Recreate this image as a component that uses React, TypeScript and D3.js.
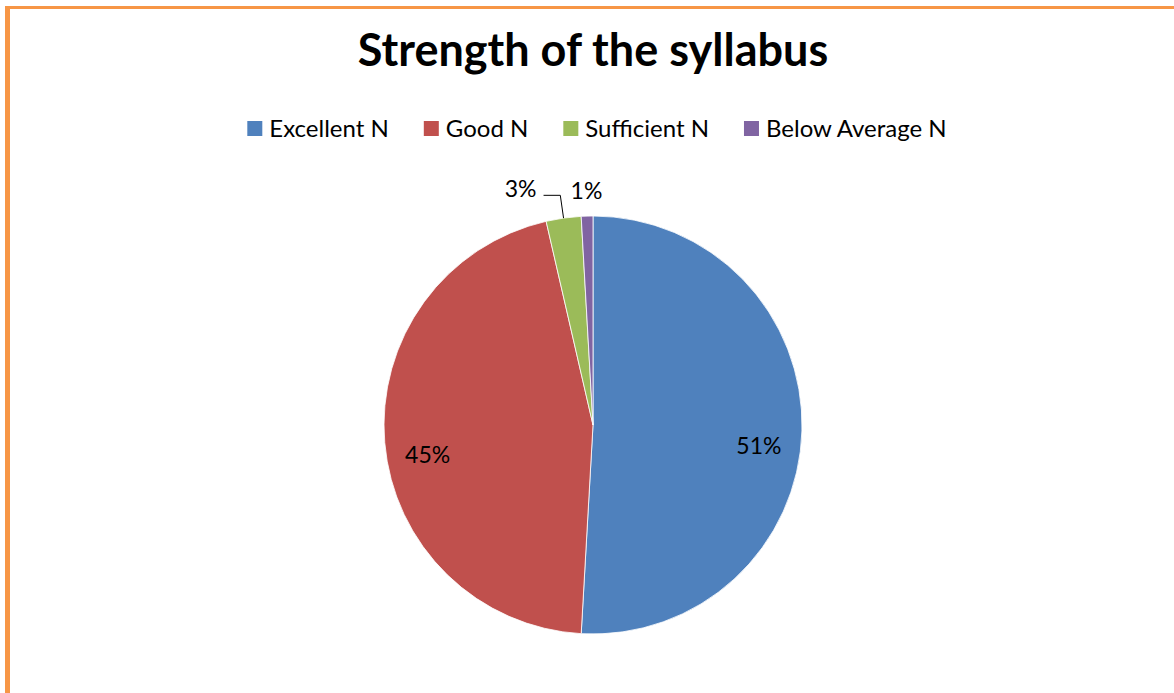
import React, { useEffect, useRef } from "react";
import * as d3 from "d3";

const title = "Strength of the syllabus";
const categories = ["Excellent N", "Good N", "Sufficient N", "Below Average N"];
const values = [50.9, 45.5, 2.7, 0.9];
const labels = ["51%", "45%", "3%", "1%"];
const colors = ["#4F81BD", "#C0504D", "#9BBB59", "#8064A2"];

const W = 1174;
const H = 693;
const FONT = "Lato, Carlito, Calibri, 'Open Sans', sans-serif";

export default function App() {
  const ref = useRef<SVGSVGElement>(null);

  useEffect(() => {
    const svg = d3.select(ref.current);
    svg.selectAll("*").remove();

    // frame
    const frame = "#F79646";
    svg.append("rect").attr("width", W).attr("height", H).attr("fill", "#fff");
    svg.append("line").attr("x1", 7.5).attr("x2", 7.5).attr("y1", 6).attr("y2", H)
      .attr("stroke", frame).attr("stroke-width", 5);
    svg.append("line").attr("x1", 5).attr("x2", W).attr("y1", 7.5).attr("y2", 7.5)
      .attr("stroke", frame).attr("stroke-width", 3);

    // title
    svg.append("text").attr("x", 593).attr("y", 66).attr("text-anchor", "middle")
      .attr("font-family", FONT).attr("font-weight", 700).attr("font-size", 45)
      .attr("fill", "#000").text(title);

    // legend
    const legendFont = 24;
    const sq = 15, sqGap = 7, itemGap = 35, baseline = 137;
    const lg = svg.append("g");
    const items = categories.map((c, i) => {
      const g = lg.append("g");
      g.append("rect").attr("width", sq).attr("height", sq).attr("y", baseline - 16)
        .attr("fill", colors[i]);
      const t = g.append("text").attr("x", sq + sqGap).attr("y", baseline)
        .attr("font-family", FONT).attr("font-size", legendFont).attr("fill", "#000").text(c);
      const w = (t.node() as SVGTextElement).getComputedTextLength();
      return { g, w: sq + sqGap + w };
    });
    const total = d3.sum(items, (d) => d.w) + itemGap * (items.length - 1);
    let x = 597 - total / 2;
    items.forEach((it) => {
      it.g.attr("transform", `translate(${x},0)`);
      x += it.w + itemGap;
    });

    // pie
    const cx = 593, cy = 425, r = 209;
    const pie = d3.pie<number>().sort(null).value((d) => d);
    const arcs = pie(values);
    const arc = d3.arc<d3.PieArcDatum<number>>().innerRadius(0).outerRadius(r);
    const pg = svg.append("g").attr("transform", `translate(${cx},${cy})`);
    pg.selectAll("path").data(arcs).join("path")
      .attr("d", arc as any)
      .attr("fill", (_, i) => colors[i])
      .attr("stroke", "#fff").attr("stroke-width", 0.8);

    const labelFont = 23;
    const mid = (a: d3.PieArcDatum<number>) => (a.startAngle + a.endAngle) / 2;
    const pt = (ang: number, rad: number) => [Math.sin(ang) * rad, -Math.cos(ang) * rad];

    // inside labels
    arcs.forEach((a, i) => {
      const frac = (a.endAngle - a.startAngle) / (2 * Math.PI);
      if (frac < 0.1) return;
      const [px, py] = pt(mid(a), 166);
      pg.append("text").attr("x", px).attr("y", py + 15).attr("text-anchor", "middle")
        .attr("dominant-baseline", "central")
        .attr("font-family", FONT).attr("font-size", labelFont).attr("fill", "#000")
        .text(labels[i]);
    });

    // outside labels (small slices), resolved right-to-left
    const outer = arcs
      .map((a, i) => ({ a, i }))
      .filter(({ a }) => (a.endAngle - a.startAngle) / (2 * Math.PI) < 0.1)
      .reverse();
    let leftLimit = Infinity;
    outer.forEach(({ a, i }) => {
      const m = mid(a);
      const [ex, ey] = pt(m, r + 23);
      const t = pg.append("text").attr("font-family", FONT).attr("font-size", labelFont)
        .attr("fill", "#000").attr("text-anchor", "middle").attr("dominant-baseline", "central")
        .text(labels[i]);
      const w = (t.node() as SVGTextElement).getComputedTextLength();
      let tx = ex;
      const baseY = ey - 3;
      if (tx + w / 2 > leftLimit - 30) {
        tx = leftLimit - 34 - w / 2;
        const [ax, ay] = pt(m, r);
        const path = d3.path();
        path.moveTo(tx + w / 2 + 7, ey);
        path.lineTo(ex, ey);
        path.lineTo(ax, ay);
        pg.append("path").attr("d", path.toString()).attr("fill", "none")
          .attr("stroke", "#000").attr("stroke-width", 1);
        t.attr("x", tx).attr("y", ey - 7);
      } else {
        t.attr("x", tx).attr("y", baseY);
      }
      leftLimit = tx - w / 2;
    });
  }, []);

  return (
    <svg
      ref={ref}
      width={W}
      height={H}
      style={{ position: "absolute", left: 0, top: 0, display: "block" }}
    />
  );
}
